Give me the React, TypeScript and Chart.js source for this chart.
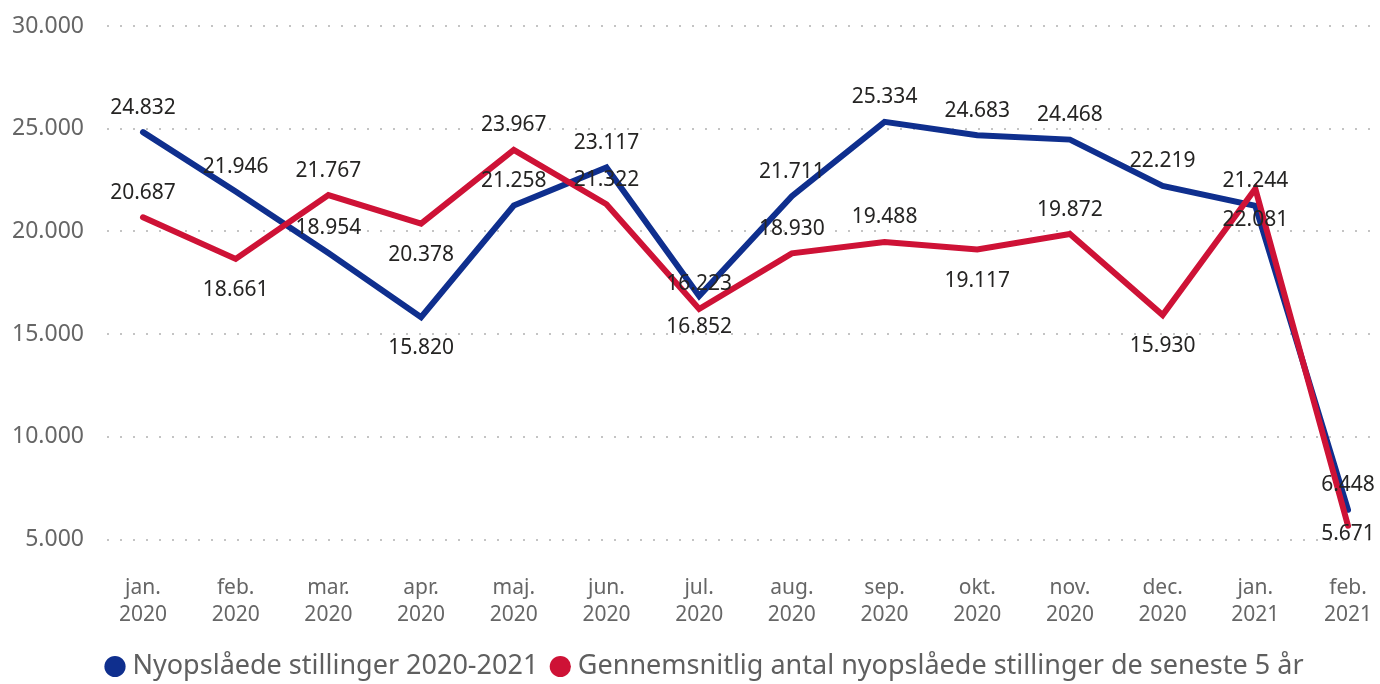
import React, { useEffect, useRef } from 'react';
import { Chart, registerables } from 'chart.js';

Chart.register(...registerables);

// ---- data ----
const months = ['jan.', 'feb.', 'mar.', 'apr.', 'maj.', 'jun.', 'jul.', 'aug.', 'sep.', 'okt.', 'nov.', 'dec.', 'jan.', 'feb.'];
const years = ['2020', '2020', '2020', '2020', '2020', '2020', '2020', '2020', '2020', '2020', '2020', '2020', '2021', '2021'];
const seriesNames = [
  'Nyopslåede stillinger 2020-2021',
  'Gennemsnitlig antal nyopslåede stillinger de seneste 5 år',
];
const newPostings = [24832, 21946, 18954, 15820, 21258, 23117, 16852, 21711, 25334, 24683, 24468, 22219, 21244, 6448];
const fiveYearAvg = [20687, 18661, 21767, 20378, 23967, 21322, 16223, 18930, 19488, 19117, 19872, 15930, 22081, 5671];
const newPostingsLabelSide = ['above', 'above', 'above', 'below', 'above', 'above', 'below', 'above', 'above', 'above', 'above', 'above', 'above', 'above'];
const fiveYearAvgLabelSide = ['above', 'below', 'above', 'below', 'above', 'above', 'above', 'above', 'above', 'below', 'above', 'below', 'below', 'below'];
const yTickValues = [5000, 10000, 15000, 20000, 25000, 30000];

// ---- style ----
const BLUE = '#0F2F8E';
const RED = '#CE1236';
const FONT = "'Noto Sans', 'Open Sans', sans-serif";

const fmt = (v: number) => String(Math.round(v)).replace(/\B(?=(\d{3})+(?!\d))/g, '.');

const labelSides = [newPostingsLabelSide, fiveYearAvgLabelSide];

const valueLabelPlugin = {
  id: 'valueLabels',
  afterDatasetsDraw(chart: any) {
    const { ctx, chartArea } = chart;
    ctx.save();
    ctx.font = `21px ${FONT}`;
    ctx.fillStyle = '#252423';
    ctx.textAlign = 'center';
    ctx.textBaseline = 'middle';
    chart.data.datasets.forEach((ds: any, di: number) => {
      const meta = chart.getDatasetMeta(di);
      const sides = labelSides[di];
      meta.data.forEach((pt: any, i: number) => {
        const v = ds.data[i].y;
        let y = pt.y + (sides[i] === 'below' ? 31 : -24.5);
        y = Math.min(y, chartArea.bottom - 5);
        ctx.fillText(fmt(v), pt.x, y);
      });
    });
    ctx.restore();
  },
};

// shift the legend box so that it starts a little left of the plot area
const legendShiftPlugin = {
  id: 'legendShift',
  afterLayout(chart: any) {
    if (chart.legend) {
      chart.legend.left = 93;
    }
  },
};

export default function App() {
  const canvasRef = useRef<HTMLCanvasElement | null>(null);

  useEffect(() => {
    document.body.style.margin = '0';
    document.body.style.overflow = 'hidden';
    const canvas = canvasRef.current;
    if (!canvas) return;
    const chart = new Chart(canvas, {
      type: 'line',
      data: {
        datasets: [
          {
            label: seriesNames[0],
            data: newPostings.map((y, i) => ({ x: i, y })),
            borderColor: BLUE,
            backgroundColor: BLUE,
            borderWidth: 6,
            pointRadius: 0,
            pointHoverRadius: 0,
            pointStyle: 'circle',
            tension: 0,
            borderJoinStyle: 'miter',
            borderCapStyle: 'round',
            order: 1,
          },
          {
            label: seriesNames[1],
            data: fiveYearAvg.map((y, i) => ({ x: i, y })),
            borderColor: RED,
            backgroundColor: RED,
            borderWidth: 6,
            pointRadius: 0,
            pointHoverRadius: 0,
            pointStyle: 'circle',
            tension: 0,
            borderJoinStyle: 'miter',
            borderCapStyle: 'round',
            order: 0,
          },
        ],
      },
      options: {
        animation: false,
        responsive: false,
        events: [],
        layout: { padding: { left: 0, right: 0, top: 26, bottom: 0 } },
        scales: {
          x: {
            type: 'linear',
            min: -0.3884,
            max: 13.345,
            afterBuildTicks: (axis: any) => {
              axis.ticks = months.map((_, i) => ({ value: i }));
            },
            afterFit: (axis: any) => {
              axis.height = 95.5;
            },
            grid: { display: false, drawTicks: true, tickLength: 35, tickColor: 'rgba(0,0,0,0)' },
            border: { display: false },
            ticks: {
              autoSkip: false,
              maxRotation: 0,
              padding: 0,
              color: '#666666',
              font: { family: FONT, size: 21, lineHeight: 1.3 },
              callback: (value: any) => [months[value], years[value]],
            },
          },
          y: {
            type: 'linear',
            min: 5000,
            max: 30000,
            afterBuildTicks: (axis: any) => {
              axis.ticks = yTickValues.map((v) => ({ value: v }));
            },
            afterFit: (axis: any) => {
              axis.width = 107;
            },
            grid: { color: '#c4c4c4', lineWidth: 2, drawTicks: true, tickLength: 23, tickColor: 'rgba(0,0,0,0)' },
            border: { display: false, dash: [2, 11] },
            ticks: {
              padding: 0,
              color: '#666666',
              font: { family: FONT, size: 23 },
              callback: (value: any) => fmt(Number(value)),
            },
          },
        },
        plugins: {
          tooltip: { enabled: false },
          legend: {
            position: 'bottom',
            align: 'start',
            fullSize: false,
            labels: {
              usePointStyle: true,
              boxWidth: 8,
              boxHeight: 15,
              padding: 18,
              color: '#5f5f5f',
              font: { family: FONT, size: 27 },
              sort: (a: any, b: any) => a.datasetIndex - b.datasetIndex,
              generateLabels: (c: any) =>
                (Chart.defaults.plugins.legend.labels as any)
                  .generateLabels(c)
                  .map((item: any) => ({ ...item, lineWidth: 0, strokeStyle: item.fillStyle, pointStyle: 'circle' })),
            },
          },
        },
      } as any,
      plugins: [valueLabelPlugin, legendShiftPlugin],
    });
    return () => chart.destroy();
  }, []);

  return (
    <div style={{ width: 1380, height: 690 }}>
      <canvas ref={canvasRef} width={1380} height={690} style={{ display: 'block' }} />
    </div>
  );
}
